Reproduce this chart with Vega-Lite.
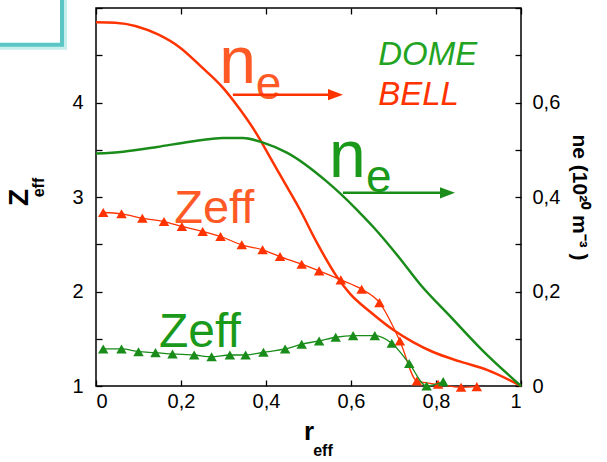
{
  "$schema": "https://vega.github.io/schema/vega-lite/v6.json",
  "width": 425,
  "height": 378,
  "autosize": {"type": "none"},
  "padding": {"left": 96, "top": 8, "right": 86, "bottom": 76},
  "background": "white",
  "config": {
    "font": "Liberation Sans",
    "view": {"stroke": "black", "strokeWidth": 1.5},
    "axis": {
      "grid": false,
      "domain": false,
      "offset": -6,
      "tickColor": "black",
      "tickWidth": 1.3,
      "tickSize": 6,
      "labelColor": "black",
      "titleColor": "black",
      "labelFont": "Liberation Sans",
      "titleFont": "Liberation Sans",
      "labelFontSize": 20
    }
  },
  "datasets": {
    "neBell": [
      {"r": 0, "ne": 0.770}, {"r": 0.045, "ne": 0.769}, {"r": 0.146, "ne": 0.744},
      {"r": 0.198, "ne": 0.716}, {"r": 0.245, "ne": 0.678}, {"r": 0.299, "ne": 0.631},
      {"r": 0.339, "ne": 0.585}, {"r": 0.379, "ne": 0.532}, {"r": 0.409, "ne": 0.485},
      {"r": 0.440, "ne": 0.436}, {"r": 0.480, "ne": 0.373}, {"r": 0.520, "ne": 0.303},
      {"r": 0.567, "ne": 0.231}, {"r": 0.598, "ne": 0.195}, {"r": 0.645, "ne": 0.157},
      {"r": 0.699, "ne": 0.119}, {"r": 0.746, "ne": 0.093}, {"r": 0.793, "ne": 0.072},
      {"r": 0.856, "ne": 0.052}, {"r": 0.920, "ne": 0.034}, {"r": 1.0, "ne": 0}
    ],
    "neDome": [
      {"r": 0, "ne": 0.492}, {"r": 0.064, "ne": 0.496}, {"r": 0.144, "ne": 0.506},
      {"r": 0.221, "ne": 0.517}, {"r": 0.299, "ne": 0.525}, {"r": 0.346, "ne": 0.525},
      {"r": 0.393, "ne": 0.515}, {"r": 0.449, "ne": 0.494}, {"r": 0.544, "ne": 0.432},
      {"r": 0.614, "ne": 0.373}, {"r": 0.652, "ne": 0.337}, {"r": 0.715, "ne": 0.270},
      {"r": 0.762, "ne": 0.216}, {"r": 0.833, "ne": 0.148}, {"r": 0.911, "ne": 0.074},
      {"r": 1.0, "ne": 0}
    ],
    "zBell": [
      {"r": 0.017, "z": 2.836}, {"r": 0.060, "z": 2.822}, {"r": 0.109, "z": 2.776},
      {"r": 0.160, "z": 2.740}, {"r": 0.202, "z": 2.688}, {"r": 0.251, "z": 2.635},
      {"r": 0.293, "z": 2.582}, {"r": 0.343, "z": 2.494}, {"r": 0.392, "z": 2.441},
      {"r": 0.433, "z": 2.370}, {"r": 0.484, "z": 2.289}, {"r": 0.525, "z": 2.218},
      {"r": 0.576, "z": 2.123}, {"r": 0.625, "z": 2.024}, {"r": 0.667, "z": 1.882},
      {"r": 0.715, "z": 1.477}, {"r": 0.755, "z": 1.053}, {"r": 0.805, "z": 1.018},
      {"r": 0.859, "z": 0.986}, {"r": 0.896, "z": 0.993}
    ],
    "zDome": [
      {"r": 0.017, "z": 1.392}, {"r": 0.060, "z": 1.392}, {"r": 0.100, "z": 1.363},
      {"r": 0.140, "z": 1.353}, {"r": 0.180, "z": 1.339}, {"r": 0.231, "z": 1.328},
      {"r": 0.272, "z": 1.310}, {"r": 0.315, "z": 1.328}, {"r": 0.352, "z": 1.328},
      {"r": 0.394, "z": 1.357}, {"r": 0.445, "z": 1.392}, {"r": 0.484, "z": 1.442},
      {"r": 0.525, "z": 1.477}, {"r": 0.564, "z": 1.516}, {"r": 0.605, "z": 1.533},
      {"r": 0.656, "z": 1.533}, {"r": 0.696, "z": 1.452}, {"r": 0.737, "z": 1.238},
      {"r": 0.778, "z": 1.000}, {"r": 0.817, "z": 1.046}
    ],
    "one": [{}]
  },
  "layer": [
    {
      "layer": [
        {
          "data": {"name": "zBell"},
          "mark": {"type": "line", "color": "#ff3300", "strokeWidth": 1.3, "interpolate": "monotone"},
          "encoding": {
            "x": {
              "field": "r", "type": "quantitative",
              "scale": {"domain": [0, 1], "nice": false},
              "axis": {
                "orient": "bottom",
                "values": [0, 0.2, 0.4, 0.6, 0.8, 1],
                "format": ".1~f",
                "labelExpr": "replace(datum.label, '.', ',')",
                "labelPadding": 5,
                "title": "r",
                "titleFontSize": 26,
                "titleFontWeight": "bold",
                "titlePadding": 7
              }
            },
            "y": {
              "field": "z", "type": "quantitative",
              "scale": {"domain": [1, 5], "nice": false, "zero": false},
              "axis": {
                "orient": "left",
                "values": [1, 1.5, 2, 2.5, 3, 3.5, 4, 4.5, 5],
                "format": ".1~f",
                "labelExpr": "(datum.value % 1 == 0 && datum.value < 5) ? datum.label : ''",
                "labelPadding": 13,
                "title": "Z",
                "titleFontSize": 28,
                "titleFontWeight": "bold",
                "titlePadding": 38
              }
            }
          }
        },
        {
          "data": {"name": "zBell"},
          "mark": {"type": "point", "shape": "triangle-up", "filled": true, "opacity": 1, "color": "#ff3300", "size": 110},
          "encoding": {"x": {"field": "r", "type": "quantitative"}, "y": {"field": "z", "type": "quantitative"}}
        },
        {
          "data": {"name": "zDome"},
          "mark": {"type": "line", "color": "#1a8c1a", "strokeWidth": 1.3, "interpolate": "monotone"},
          "encoding": {"x": {"field": "r", "type": "quantitative"}, "y": {"field": "z", "type": "quantitative"}}
        },
        {
          "data": {"name": "zDome"},
          "mark": {"type": "point", "shape": "triangle-up", "filled": true, "opacity": 1, "color": "#1a8c1a", "size": 110},
          "encoding": {"x": {"field": "r", "type": "quantitative"}, "y": {"field": "z", "type": "quantitative"}}
        },
        {
          "data": {"name": "one"},
          "mark": {"type": "rect", "fill": "white", "stroke": "#8fdcdc", "strokeWidth": 10, "strokeOpacity": 0.5},
          "encoding": {"x": {"datum": -0.3}, "x2": {"datum": -0.08}, "y": {"datum": 4.61}, "y2": {"datum": 5.3}}
        },
        {
          "data": {"name": "one"},
          "mark": {"type": "rect", "fill": "white", "stroke": "#5cc6c6", "strokeWidth": 4},
          "encoding": {"x": {"datum": -0.3}, "x2": {"datum": -0.08}, "y": {"datum": 4.61}, "y2": {"datum": 5.3}}
        },
        {
          "data": {"name": "one"},
          "mark": {"type": "text", "text": "n", "fontSize": 66, "color": "#ff5a26", "align": "left", "baseline": "alphabetic"},
          "encoding": {"x": {"datum": 0.29}, "y": {"datum": 4.21}}
        },
        {
          "data": {"name": "one"},
          "mark": {"type": "text", "text": "e", "fontSize": 46, "color": "#ff5a26", "align": "left", "baseline": "alphabetic"},
          "encoding": {"x": {"datum": 0.376}, "y": {"datum": 4.04}}
        },
        {
          "data": {"name": "one"},
          "mark": {"type": "rule", "color": "#ff3300", "strokeWidth": 2.5},
          "encoding": {"x": {"datum": 0.322}, "x2": {"datum": 0.56}, "y": {"datum": 4.083}}
        },
        {
          "data": {"name": "one"},
          "mark": {"type": "point", "shape": "M-1,-0.75L1,0L-1,0.75Z", "filled": true, "opacity": 1, "color": "#ff3300", "size": 225},
          "encoding": {"x": {"datum": 0.5635}, "y": {"datum": 4.083}}
        },
        {
          "data": {"name": "one"},
          "mark": {"type": "text", "text": "n", "fontSize": 66, "color": "#1a991a", "align": "left", "baseline": "alphabetic"},
          "encoding": {"x": {"datum": 0.548}, "y": {"datum": 3.214}}
        },
        {
          "data": {"name": "one"},
          "mark": {"type": "text", "text": "e", "fontSize": 46, "color": "#1a991a", "align": "left", "baseline": "alphabetic"},
          "encoding": {"x": {"datum": 0.635}, "y": {"datum": 3.055}}
        },
        {
          "data": {"name": "one"},
          "mark": {"type": "rule", "color": "#1a8c1a", "strokeWidth": 2.5},
          "encoding": {"x": {"datum": 0.581}, "x2": {"datum": 0.82}, "y": {"datum": 3.044}}
        },
        {
          "data": {"name": "one"},
          "mark": {"type": "point", "shape": "M-1,-0.75L1,0L-1,0.75Z", "filled": true, "opacity": 1, "color": "#1a8c1a", "size": 225},
          "encoding": {"x": {"datum": 0.827}, "y": {"datum": 3.044}}
        },
        {
          "data": {"name": "one"},
          "mark": {"type": "text", "text": "DOME", "fontSize": 33, "fontStyle": "italic", "color": "#22a322", "align": "left", "baseline": "alphabetic"},
          "encoding": {"x": {"datum": 0.664}, "y": {"datum": 4.40}}
        },
        {
          "data": {"name": "one"},
          "mark": {"type": "text", "text": "BELL", "fontSize": 33, "fontStyle": "italic", "color": "#ff3300", "align": "left", "baseline": "alphabetic"},
          "encoding": {"x": {"datum": 0.664}, "y": {"datum": 3.977}}
        },
        {
          "data": {"name": "one"},
          "mark": {"type": "text", "text": "Zeff", "fontSize": 47, "color": "#ff5a26", "align": "left", "baseline": "alphabetic"},
          "encoding": {"x": {"datum": 0.184}, "y": {"datum": 2.727}}
        },
        {
          "data": {"name": "one"},
          "mark": {"type": "text", "text": "Zeff", "fontSize": 48, "color": "#1a991a", "align": "left", "baseline": "alphabetic"},
          "encoding": {"x": {"datum": 0.148}, "y": {"datum": 1.413}}
        },
        {
          "data": {"name": "one"},
          "mark": {"type": "text", "text": "eff", "fontSize": 16, "fontWeight": "bold", "color": "black", "angle": 270, "align": "center", "baseline": "middle"},
          "encoding": {"x": {"datum": -0.134}, "y": {"datum": 3.10}}
        },
        {
          "data": {"name": "one"},
          "mark": {"type": "text", "text": "eff", "fontSize": 16, "fontWeight": "bold", "color": "black", "align": "center", "baseline": "middle"},
          "encoding": {"x": {"datum": 0.534}, "y": {"datum": 0.311}}
        }
      ]
    },
    {
      "layer": [
        {
          "data": {"name": "neBell"},
          "mark": {"type": "line", "color": "#ff3300", "strokeWidth": 2.5, "interpolate": "monotone"},
          "encoding": {
            "x": {
              "field": "r", "type": "quantitative",
              "axis": {"orient": "top", "values": [0, 0.2, 0.4, 0.6, 0.8, 1], "labels": false, "title": null}
            },
            "y": {
              "field": "ne", "type": "quantitative",
              "scale": {"domain": [0, 0.8], "nice": false},
              "axis": {
                "orient": "right",
                "values": [0, 0.1, 0.2, 0.3, 0.4, 0.5, 0.6, 0.7, 0.8],
                "format": ".1~f",
                "labelExpr": "(round(datum.value * 10) % 2 == 0 && datum.value < 0.75) ? replace(datum.label, '.', ',') : ''",
                "labelPadding": 11,
                "title": "ne (10²⁰  m⁻³ )",
                "titleFontSize": 21,
                "titleFontWeight": "bold",
                "titlePadding": 9
              }
            }
          }
        },
        {
          "data": {"name": "neDome"},
          "mark": {"type": "line", "color": "#1a8c1a", "strokeWidth": 2.5, "interpolate": "monotone"},
          "encoding": {"x": {"field": "r", "type": "quantitative"}, "y": {"field": "ne", "type": "quantitative"}}
        }
      ]
    }
  ],
  "resolve": {"scale": {"y": "independent"}, "axis": {"x": "independent", "y": "independent"}}
}
